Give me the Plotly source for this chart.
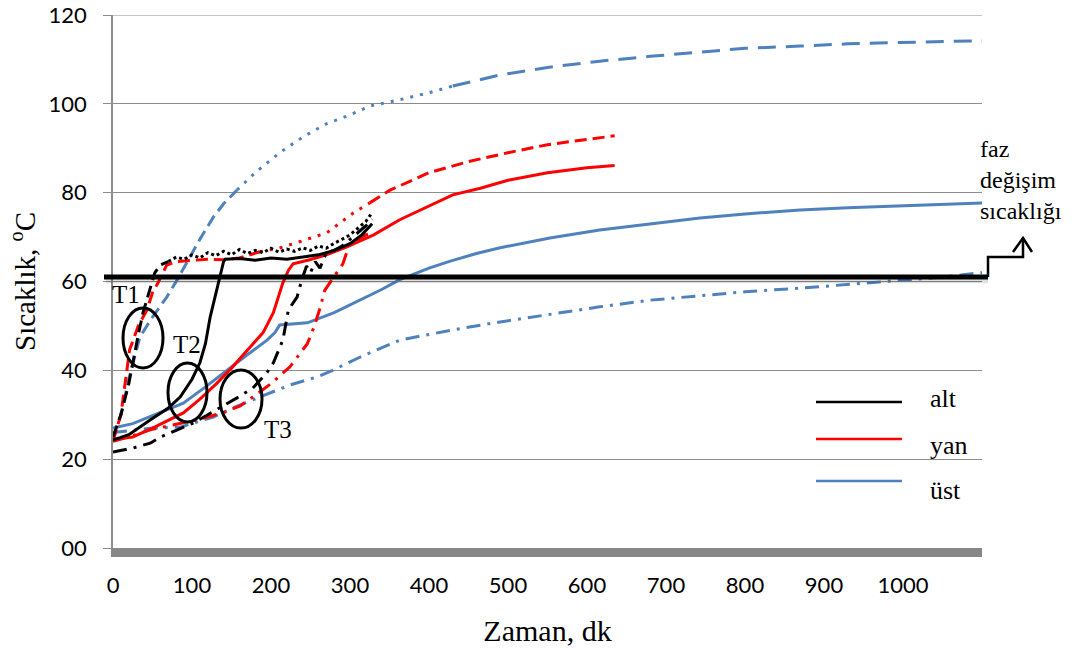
import plotly.graph_objects as go

# ---------------- data ----------------
x_ticks = [0, 100, 200, 300, 400, 500, 600, 700, 800, 900, 1000]
y_ticks = [0, 20, 40, 60, 80, 100, 120]
y_tick_text = ["00", "20", "40", "60", "80", "100", "120"]
PHASE_TEMP = 61

# alt (bottom) - black
alt_T1_x = [0, 10, 20, 25, 32, 38, 43, 47, 53, 60, 70, 80, 90, 100, 110, 120, 130, 140, 150, 160,
            170, 180, 190, 200, 210, 220, 230, 240, 250, 260, 270, 280, 290, 300, 310, 320, 328]
alt_T1_y = [25, 30, 37, 41.7, 48, 53, 56, 58, 62, 63.7, 64.5, 65.5, 65, 66, 65.3, 66.5, 65.8, 66.8, 66, 67.2,
            66.3, 67, 66.5, 67.5, 66.6, 67.3, 66.8, 67.6, 67, 68, 67.5, 68.6, 69.5, 70.5, 72, 73.5, 75.5]
alt_T2_x = [0, 20, 47, 70, 85, 100, 110, 117, 123, 130, 135, 140, 142, 160, 180, 200, 220, 240, 260,
            280, 300, 315, 328]
alt_T2_y = [24.3, 25.5, 28.8, 31.5, 34, 38, 41.7, 46, 52, 57, 61, 64.5, 65, 65.2, 64.8, 65.3, 65, 65.5, 66,
            67, 68.5, 70.5, 73]
alt_T3_x = [0, 25, 47, 60, 80, 100, 120, 140, 157, 177, 195, 203, 215, 222, 233, 239, 245, 250, 256,
            262, 270, 280, 290, 300, 310, 320, 328]
alt_T3_y = [21.6, 22.5, 23.6, 25, 26.5, 28, 30, 32, 33.8, 36, 39.5, 41.7, 46.8, 53.6, 56.5, 60.4, 63.5, 62,
            64.5, 63, 66.5, 67, 68, 69.5, 71, 72.5, 74]

# yan (side) - red
yan_T1_x = [0, 10, 21, 32, 43, 50, 57, 68, 80, 100, 120, 140, 160, 186, 210, 237, 271, 304, 325, 350,
            400, 450, 500, 550, 600, 635]
yan_T1_y = [24, 30, 44.6, 50, 53.6, 57.5, 59.7, 63.7, 64.5, 64.8, 65, 64.9, 65.3, 66.7, 67.5, 69, 71, 75.4,
            77.7, 80.5, 84.5, 87, 89, 90.8, 92, 92.8]
yan_T2_x = [0, 25, 50, 89, 110, 131, 150, 173, 190, 203, 210, 215, 222, 228, 249, 270, 296, 330, 363,
            400, 430, 465, 500, 550, 600, 635]
yan_T2_y = [24.5, 25, 27, 30.4, 33.5, 37, 40.5, 45, 48.5, 53, 57, 59.7, 62.5, 64, 64.9, 66, 67.8, 70.5, 73.9,
            77, 79.5, 81, 82.8, 84.5, 85.6, 86.1]
yan_T3_x = [0, 20, 47, 80, 110, 140, 161, 177, 200, 224, 246, 255, 262, 268, 280, 291, 300, 310, 320, 330]
yan_T3_y = [24, 25, 26.6, 27.8, 29, 30.5, 32, 34, 37, 40.8, 46, 50, 54, 58, 61, 64, 68.7, 69.5, 70.5, 71]

# üst (top) - blue
ust_T1_x = [0, 10, 20, 34, 50, 68, 80, 97, 110, 127, 140, 157, 180, 211, 240, 270, 300, 325, 360, 400,
            430, 490, 550, 616, 680, 743, 800, 870, 930, 996, 1050, 1100]
ust_T1_y = [25, 30, 38, 47.5, 52, 56.5, 60, 65.5, 69.5, 74.5, 77.5, 80.6, 84.5, 89, 92.5, 95.5, 97.5, 99.5,
            100.8, 102.5, 104, 106.5, 108.2, 109.6, 110.7, 111.6, 112.5, 113, 113.5, 113.8, 114, 114.2]
ust_T2_x = [0, 25, 50, 89, 115, 144, 170, 195, 205, 211, 230, 246, 280, 313, 340, 363, 400, 427, 460,
            490, 553, 616, 680, 743, 800, 870, 930, 996, 1050, 1100]
ust_T2_y = [27, 28, 29.8, 32.6, 36, 40, 43.5, 46.8, 48.5, 50.2, 50.4, 50.7, 53, 55.8, 58.2, 60.4, 63, 64.6,
            66.3, 67.6, 69.8, 71.6, 73, 74.3, 75.2, 76.1, 76.6, 77, 77.4, 77.7]
ust_T3_x = [0, 25, 50, 85, 110, 127, 158, 177, 200, 224, 258, 278, 313, 363, 427, 490, 553, 616, 680,
            743, 800, 870, 930, 996, 1050, 1100]
ust_T3_y = [26, 26.5, 27, 27.2, 28.5, 29.5, 32, 33.3, 35, 36.7, 38.5, 40, 43, 46.8, 49, 50.9, 52.6, 54.3,
            55.8, 56.8, 57.7, 58.5, 59.3, 60.2, 61, 62]

legend_names = ["alt", "yan", "üst"]

# ---------------- styles ----------------
BLACK = "#000000"
RED = "#FF0000"
BLUE = "#4F81BD"
GRID = "#8c8c8c"
DASH = "12px,6px"
DOT = "3px,7px"
LONGDASH = "18px,10px"
DASHDOT = "14px,7px,3px,7px"
SERIF = "Liberation Serif"

fig = go.Figure()


def add_series(xs, ys, color, segments, width=3):
    start = 0
    for x_end, dash in segments:
        end = max(i for i in range(len(xs)) if xs[i] <= x_end)
        fig.add_trace(go.Scatter(
            x=xs[start:end + 1], y=ys[start:end + 1], mode="lines",
            line=dict(color=color, width=width, dash=dash),
            showlegend=False, hoverinfo="skip"))
        start = end


add_series(ust_T1_x, ust_T1_y, BLUE, [(160, DASH), (430, DOT), (2000, LONGDASH)])
add_series(ust_T2_x, ust_T2_y, BLUE, [(2000, "solid")])
add_series(ust_T3_x, ust_T3_y, BLUE, [(2000, DASHDOT)])
add_series(yan_T1_x, yan_T1_y, RED, [(190, DASH), (330, DOT), (2000, DASH)])
add_series(yan_T2_x, yan_T2_y, RED, [(2000, "solid")])
add_series(yan_T3_x, yan_T3_y, RED, [(2000, DASHDOT)])
add_series(alt_T1_x, alt_T1_y, BLACK, [(70, DASH), (2000, "3px,3px")])
add_series(alt_T2_x, alt_T2_y, BLACK, [(2000, "solid")])
add_series(alt_T3_x, alt_T3_y, BLACK, [(2000, DASHDOT)])


def px2paper_x(px):
    return (px - 113) / 869.0


def px2paper_y(py):
    return (548 - py) / 533.0


shapes = []
# top gridline (at the end of the y range)
shapes.append(dict(type="line", xref="paper", yref="y", x0=0, x1=1, y0=y_ticks[-1], y1=y_ticks[-1],
                   line=dict(color=GRID, width=1), layer="below"))
# phase-change line (with a soft shadow)
shapes.append(dict(type="line", xref="paper", yref="y", x0=px2paper_x(106), x1=px2paper_x(988),
                   y0=PHASE_TEMP - 0.6, y1=PHASE_TEMP - 0.6,
                   line=dict(color="rgba(0,0,0,0.12)", width=7)))
shapes.append(dict(type="line", xref="paper", yref="y", x0=px2paper_x(104), x1=px2paper_x(988),
                   y0=PHASE_TEMP, y1=PHASE_TEMP, line=dict(color=BLACK, width=5)))
# bracket + arrow to the label
bx0, bx1 = px2paper_x(988), px2paper_x(1023)
by0, by1, by2 = PHASE_TEMP / 120.0, px2paper_y(257), px2paper_y(238)
path = (f"M {bx0},{by0} L {bx0},{by1} L {bx1},{by1} L {bx1},{by2}")
shapes.append(dict(type="path", xref="paper", yref="paper", path=path,
                   line=dict(color=BLACK, width=2.5)))
arrow = (f"M {px2paper_x(1013)},{px2paper_y(252)} L {bx1},{by2} L {px2paper_x(1032)},{px2paper_y(252)}")
shapes.append(dict(type="path", xref="paper", yref="paper", path=arrow,
                   line=dict(color=BLACK, width=2.5)))

# ellipses marking T1, T2, T3
for (l, r, t, b) in [(123, 163, 308, 368), (168, 207, 363, 422), (220, 262, 370, 428)]:
    shapes.append(dict(type="circle", xref="paper", yref="paper",
                       x0=px2paper_x(l), x1=px2paper_x(r), y0=px2paper_y(b), y1=px2paper_y(t),
                       line=dict(color=BLACK, width=3)))

# custom legend lines
for py, col in [(402, BLACK), (439, RED), (481, BLUE)]:
    shapes.append(dict(type="line", xref="paper", yref="paper",
                       x0=px2paper_x(816), x1=px2paper_x(902), y0=px2paper_y(py), y1=px2paper_y(py),
                       line=dict(color=col, width=2.5)))

annotations = []
for txt, px, py in [("T1", 126, 294), ("T2", 187, 345), ("T3", 278, 429)]:
    annotations.append(dict(text=txt, xref="paper", yref="paper", x=px2paper_x(px), y=px2paper_y(py),
                            xanchor="center", yanchor="middle", showarrow=False,
                            font=dict(family=SERIF, size=25, color=BLACK)))
for txt, py in zip(legend_names, [398, 445, 490]):
    annotations.append(dict(text=txt, xref="paper", yref="paper", x=px2paper_x(928), y=px2paper_y(py),
                            xanchor="left", yanchor="middle", showarrow=False,
                            font=dict(family=SERIF, size=26, color=BLACK)))
annotations.append(dict(text="faz<br>değişim<br>sıcaklığı", xref="paper", yref="paper",
                        x=px2paper_x(978), y=px2paper_y(134), xanchor="left", yanchor="top",
                        align="left", showarrow=False,
                        font=dict(family=SERIF, size=24, color=BLACK)))
# y-axis title
annotations.append(dict(text="Sıcaklık, <sup>o</sup>C", xref="paper", yref="paper",
                        x=px2paper_x(23), y=px2paper_y(282), xanchor="center", yanchor="middle",
                        textangle=-90, showarrow=False,
                        font=dict(family=SERIF, size=29, color=BLACK)))

fig.update_layout(
    width=1086, height=660,
    margin=dict(l=113, r=104, t=15, b=112),
    paper_bgcolor="white", plot_bgcolor="white",
    showlegend=False,
    shapes=shapes, annotations=annotations,
    xaxis=dict(range=[0, 1100], tickvals=x_ticks, showgrid=False, zeroline=False, automargin=False,
               showline=True, linecolor="#878787", linewidth=9, ticks="",
               tickfont=dict(family="Lato", size=22, color=BLACK), ticklabelstandoff=10,
               title=dict(text="Zaman, dk", font=dict(family=SERIF, size=30, color=BLACK), standoff=26)),
    yaxis=dict(range=[0, 120], tickvals=y_ticks, ticktext=y_tick_text, showgrid=True, automargin=False,
               gridcolor=GRID, gridwidth=1, zeroline=False, showline=True, ticklabeloverflow="allow",
               linecolor=GRID, linewidth=1.5, ticks="outside", ticklen=8, tickcolor=GRID,
               tickfont=dict(family="Lato", size=22, color=BLACK), ticklabelstandoff=12),
)

# remove the default page margin so the figure sits at the window's top-left corner
fig.write_html("out.html", config={"displayModeBar": False},
               post_script="document.body.style.margin='0';")
